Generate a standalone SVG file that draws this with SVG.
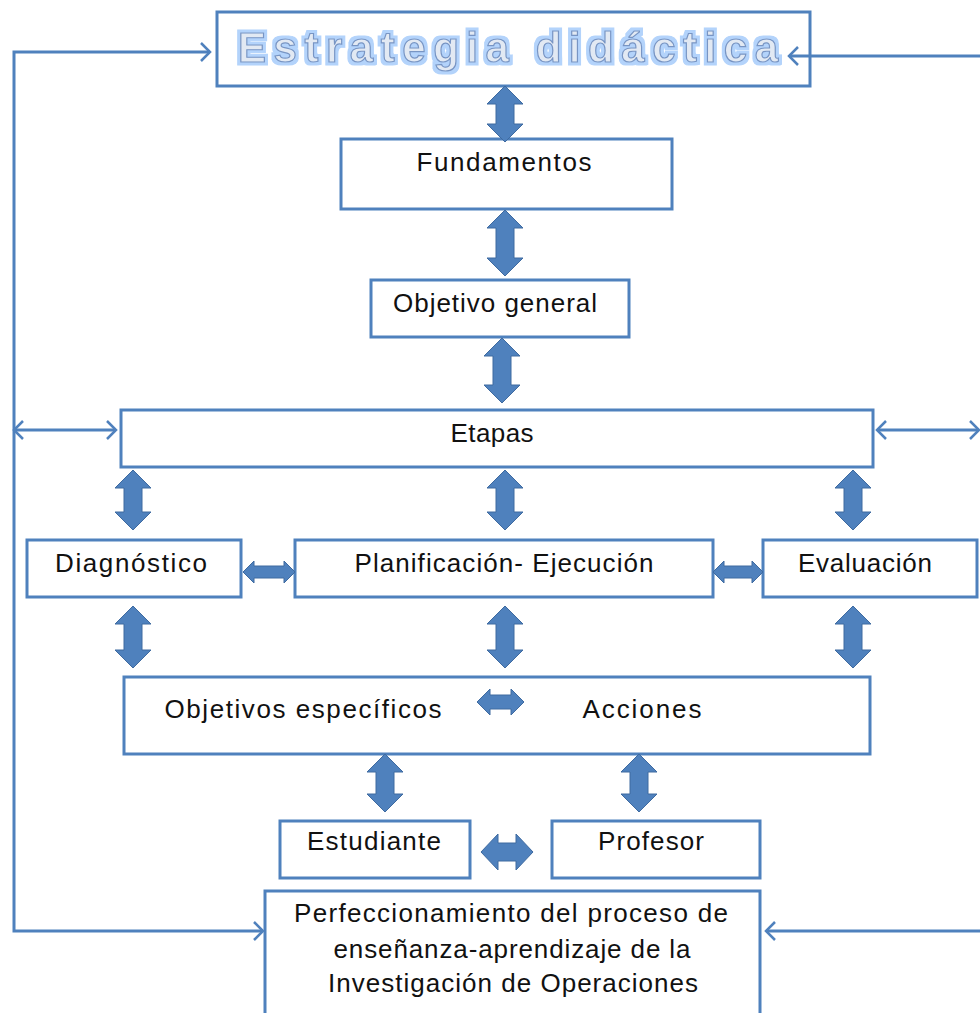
<svg xmlns="http://www.w3.org/2000/svg" width="980" height="1013" viewBox="0 0 980 1013">
<style>
.box{fill:#fff;stroke:#4F81BD;stroke-width:3}
.lbl{font-family:"Liberation Sans",Arial,sans-serif;font-size:26px;fill:#111;text-anchor:middle}
.title{font-family:"Liberation Sans",Arial,sans-serif;font-size:42px;font-weight:bold;fill:#e2e9f3;stroke:#7895c4;stroke-width:1.2;text-anchor:middle}
.blk{fill:#4F81BD;stroke:#3e6aa0;stroke-width:1}
.con{fill:none;stroke:#4F81BD;stroke-width:3}
</style>
<defs>
<marker id="chev" viewBox="0 0 12 20" refX="10" refY="10" markerWidth="12" markerHeight="20" markerUnits="userSpaceOnUse" orient="auto-start-reverse">
<path d="M1,1 L10,10 L1,19" fill="none" stroke="#4F81BD" stroke-width="2.5"/>
</marker>
<filter id="glow" x="-5%" y="-30%" width="110%" height="160%">
<feMorphology in="SourceAlpha" operator="dilate" radius="3" result="d"/>
<feFlood flood-color="#b3d3fb"/>
<feComposite in2="d" operator="in" result="g"/>
<feMerge><feMergeNode in="g"/><feMergeNode in="SourceGraphic"/></feMerge>
</filter>
</defs>

<g id="n-estrategia"><rect class="box" x="217" y="12" width="593" height="74"/><text class="title" x="508" y="62" textLength="540" lengthAdjust="spacing" filter="url(#glow)">Estrategia didáctica</text></g>
<g id="n-fundamentos"><rect class="box" x="341" y="139" width="331" height="70"/><text class="lbl" x="504" y="171" textLength="175" lengthAdjust="spacing">Fundamentos</text></g>
<g id="n-objetivo"><rect class="box" x="371" y="280" width="258" height="57"/><text class="lbl" x="495" y="312" textLength="204" lengthAdjust="spacing">Objetivo general</text></g>
<g id="n-etapas"><rect class="box" x="121" y="410" width="752" height="57"/><text class="lbl" x="492" y="442" textLength="83" lengthAdjust="spacing">Etapas</text></g>
<g id="n-diagnostico"><rect class="box" x="27" y="540" width="214" height="57"/><text class="lbl" x="131" y="572" textLength="152" lengthAdjust="spacing">Diagnóstico</text></g>
<g id="n-planificacion"><rect class="box" x="295" y="540" width="418" height="57"/><text class="lbl" x="504" y="572" textLength="299" lengthAdjust="spacing">Planificación-  Ejecución</text></g>
<g id="n-evaluacion"><rect class="box" x="763" y="540" width="214" height="57"/><text class="lbl" x="865" y="572" textLength="134" lengthAdjust="spacing">Evaluación</text></g>
<g id="n-objetivos-acciones"><rect class="box" x="124" y="677" width="746" height="77"/>
<text class="lbl" x="303" y="718" textLength="277" lengthAdjust="spacing">Objetivos específicos</text>
<text class="lbl" x="642" y="718" textLength="119" lengthAdjust="spacing">Acciones</text>
<path class="blk" d="M477,702 L490,689 L490,695 L511,695 L511,689 L524,702 L511,715 L511,709 L490,709 L490,715 Z"/></g>
<g id="n-estudiante"><rect class="box" x="280" y="821" width="190" height="57"/><text class="lbl" x="374" y="850" textLength="134" lengthAdjust="spacing">Estudiante</text></g>
<g id="n-profesor"><rect class="box" x="552" y="821" width="208" height="57"/><text class="lbl" x="651" y="850" textLength="106" lengthAdjust="spacing">Profesor</text></g>
<g id="n-perfeccionamiento"><rect class="box" x="265" y="891" width="495" height="140"/>
<text class="lbl" x="511" y="922" textLength="434" lengthAdjust="spacing">Perfeccionamiento  del proceso  de</text>
<text class="lbl" x="512" y="958" textLength="357" lengthAdjust="spacing">enseñanza-aprendizaje   de la</text>
<text class="lbl" x="513" y="992" textLength="370" lengthAdjust="spacing">Investigación  de Operaciones</text></g>

<g id="connectors">
<path class="con" d="M210,52 L14,52 L14,931 L263,931" marker-start="url(#chev)" marker-end="url(#chev)"/>
<path class="con" d="M980,56 L789,56" marker-end="url(#chev)"/>
<path class="con" d="M980,931 L766,931" marker-end="url(#chev)"/>
<path class="con" d="M14,430 L116,430" marker-start="url(#chev)" marker-end="url(#chev)"/>
<path class="con" d="M877,430 L979,430" marker-start="url(#chev)" marker-end="url(#chev)"/>
</g>

<g id="block-arrows">
<path class="blk" d="M505,86 L523,104 L514,104 L514,124 L523,124 L505,142 L487,124 L496,124 L496,104 L487,104 Z"/>
<path class="blk" d="M505,210 L523,228 L514,228 L514,258 L523,258 L505,276 L487,258 L496,258 L496,228 L487,228 Z"/>
<path class="blk" d="M502,338 L520,356 L511,356 L511,385 L520,385 L502,403 L484,385 L493,385 L493,356 L484,356 Z"/>
<path class="blk" d="M133,470 L151,488 L142,488 L142,512 L151,512 L133,530 L115,512 L124,512 L124,488 L115,488 Z"/>
<path class="blk" d="M505,470 L523,488 L514,488 L514,512 L523,512 L505,530 L487,512 L496,512 L496,488 L487,488 Z"/>
<path class="blk" d="M853,470 L871,488 L862,488 L862,512 L871,512 L853,530 L835,512 L844,512 L844,488 L835,488 Z"/>
<path class="blk" d="M133,606 L151,624 L142,624 L142,650 L151,650 L133,668 L115,650 L124,650 L124,624 L115,624 Z"/>
<path class="blk" d="M505,606 L523,624 L514,624 L514,650 L523,650 L505,668 L487,650 L496,650 L496,624 L487,624 Z"/>
<path class="blk" d="M853,606 L871,624 L862,624 L862,650 L871,650 L853,668 L835,650 L844,650 L844,624 L835,624 Z"/>
<path class="blk" d="M385,754 L403,772 L394,772 L394,794 L403,794 L385,812 L367,794 L376,794 L376,772 L367,772 Z"/>
<path class="blk" d="M639,754 L657,772 L648,772 L648,794 L657,794 L639,812 L621,794 L630,794 L630,772 L621,772 Z"/>
<path class="blk" d="M243,572 L254,561 L254,566 L284,566 L284,561 L295,572 L284,583 L284,578 L254,578 L254,583 Z"/>
<path class="blk" d="M713,572 L724,561 L724,566 L752,566 L752,561 L763,572 L752,583 L752,578 L724,578 L724,583 Z"/>
<path class="blk" d="M481,852 L498,834 L498,843 L516,843 L516,834 L533,852 L516,870 L516,861 L498,861 L498,870 Z"/>
</g>
</svg>
